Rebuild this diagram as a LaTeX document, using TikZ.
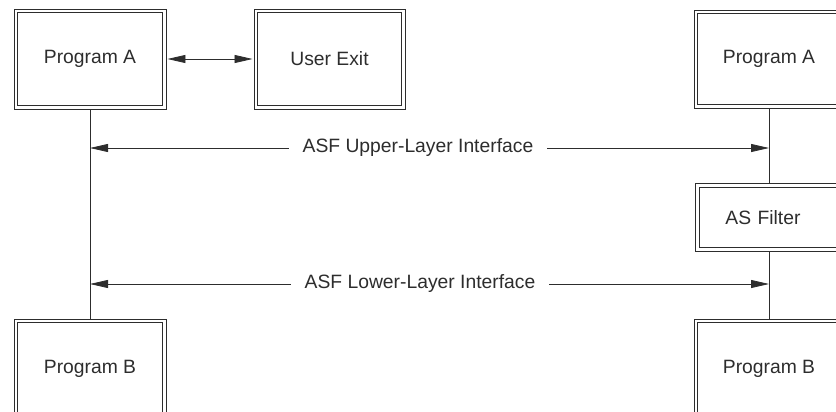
\documentclass[tikz,border=0pt]{standalone}
\usepackage{fontspec}
\setmainfont{Liberation Sans}
\usetikzlibrary{arrows.meta}
\definecolor{ink}{RGB}{45,45,45}
\newcommand\diagfont{\fontsize{19.3}{22}\selectfont}
\tikzset{
  x=1pt, y=-1pt,
  every node/.style={text=ink, font=\diagfont},
  % box with an outer and an inner frame
  dbox/.style={draw=ink, line width=0.9pt, rectangle, inner sep=0pt,
               minimum width=152pt, minimum height=100pt,
               append after command={\pgfextra{\draw[ink, line width=0.9pt]
                 ([xshift=4pt,yshift=-4pt]\tikzlastnode.north west) rectangle
                 ([xshift=-4pt,yshift=4pt]\tikzlastnode.south east);}}},
  arr/.style={draw=ink, line width=0.8pt,
              {Triangle[length=18pt,width=8pt]}-{Triangle[length=18pt,width=8pt]}},
  lane/.style={draw=ink, line width=0.8pt},
  tag/.style={fill=white, inner xsep=14pt, inner ysep=2pt}
}
\begin{document}
\begin{tikzpicture}
\useasboundingbox (0,0) rectangle (836,412);

% top row
\node[dbox] (pa1) at (90,59) {Program A};
\node[dbox, minimum width=151pt] (ue) at (329.5,59) {User Exit};
\node[dbox, minimum width=150pt, minimum height=98pt] (pa2) at (769,59) {Program A};

% filter box under the right-hand program
\node[dbox, anchor=north west, minimum height=68pt, text width=120pt,
      inner xsep=30pt, align=left] (flt) at (695,183) {AS Filter};

% bottom row
\node[dbox] (pb1) at (90,369) {Program B};
\node[dbox, minimum width=150pt] (pb2) at (769,369) {Program B};

% call to the exit routine
\draw[arr, shorten <=1pt, shorten >=1pt] (pa1.east) -- (ue.west);

% vertical lanes
\draw[lane] (pa1.south) -- (pb1.north);
\draw[lane] (pa2.south) -- (pa2.south |- flt.north);
\draw[lane] (pa2.south |- flt.south) -- (pb2.north);

% interface arrows
\coordinate (ul) at (90,148);
\coordinate (ur) at (769,148);
\coordinate (ll) at (90,284);
\coordinate (lr) at (769,284);
\draw[arr] (ul) -- (ur) node[tag, pos=0.483] (uif) {ASF Upper-Layer Interface};
\draw[arr] (ll) -- (lr) node[tag, pos=0.486] (lif) {ASF Lower-Layer Interface};
\end{tikzpicture}
\end{document}
